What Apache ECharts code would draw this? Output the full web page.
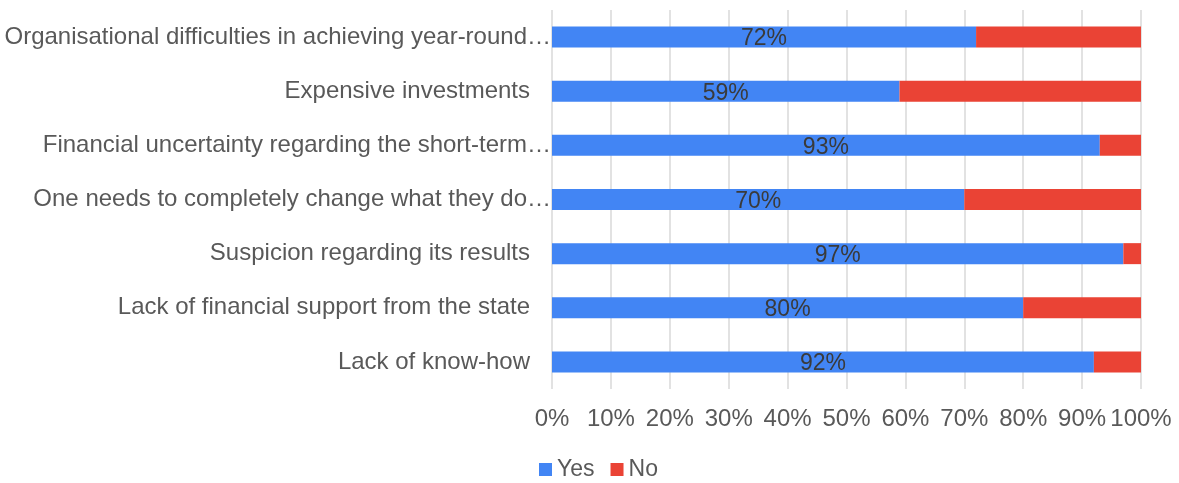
<!DOCTYPE html>
<html>
<head>
<meta charset="utf-8">
<script src="https://cdn.jsdelivr.net/npm/echarts@6/dist/echarts.min.js"></script>
<style>
html,body{margin:0;padding:0;background:#fff;}
#chart{width:1179px;height:483px;}
</style>
</head>
<body>
<div id="chart"></div>
<script>
const categories = [
  "Organisational difficulties in achieving year-round…",
  "Expensive investments",
  "Financial uncertainty regarding the short-term…",
  "One needs to completely change what they do…",
  "Suspicion regarding its results",
  "Lack of financial support from the state",
  "Lack of know-how"
];
const yesValues = [72, 59, 93, 70, 97, 80, 92];
const noValues = [28, 41, 7, 30, 3, 20, 8];
const xTicks = [0, 10, 20, 30, 40, 50, 60, 70, 80, 90, 100];

const FONT = "'Liberation Sans', Arial, sans-serif";
const chart = echarts.init(document.getElementById('chart'), null, {renderer: 'canvas'});
chart.setOption({
  animation: false,
  textStyle: {fontFamily: FONT},
  grid: {left: 552, right: 38, top: 10, bottom: 94, containLabel: false},
  legend: {
    left: 539, top: 458, padding: 0,
    icon: 'rect', itemWidth: 13, itemHeight: 13, itemGap: 16,
    textStyle: {fontSize: 23, color: '#595959', fontFamily: FONT},
    data: ['Yes', 'No']
  },
  xAxis: {
    type: 'value', min: 0, max: 100, interval: 10,
    axisLine: {show: false}, axisTick: {show: false},
    splitLine: {show: true, lineStyle: {color: '#d9d9d9', width: 1.5}},
    axisLabel: {
      fontSize: 24, color: '#595959', margin: 18, fontFamily: FONT,
      formatter: v => xTicks.includes(v) ? v + '%' : ''
    }
  },
  yAxis: {
    type: 'category', inverse: true, data: categories,
    axisLine: {show: false}, axisTick: {show: false},
    axisLabel: {
      margin: 1, fontSize: 24, color: '#595959', fontFamily: FONT,
      formatter: name => name.endsWith('…') ? '{t|' + name + '}' : '{p|' + name + '}',
      rich: {
        t: {fontSize: 24, color: '#595959', fontFamily: FONT},
        p: {fontSize: 24, color: '#595959', fontFamily: FONT, padding: [0, 21, 0, 0]}
      }
    }
  },
  series: [
    {
      name: 'Yes', type: 'bar', stack: 'total', barWidth: 21,
      itemStyle: {color: '#4285F4'},
      label: {
        show: true, position: 'inside', fontSize: 23, color: '#3a3a3a', fontFamily: FONT,
        offset: [0, 2], formatter: p => p.value + '%'
      },
      data: yesValues
    },
    {
      name: 'No', type: 'bar', stack: 'total', barWidth: 21,
      itemStyle: {color: '#EA4335'},
      data: noValues
    }
  ]
});
</script>
</body>
</html>
